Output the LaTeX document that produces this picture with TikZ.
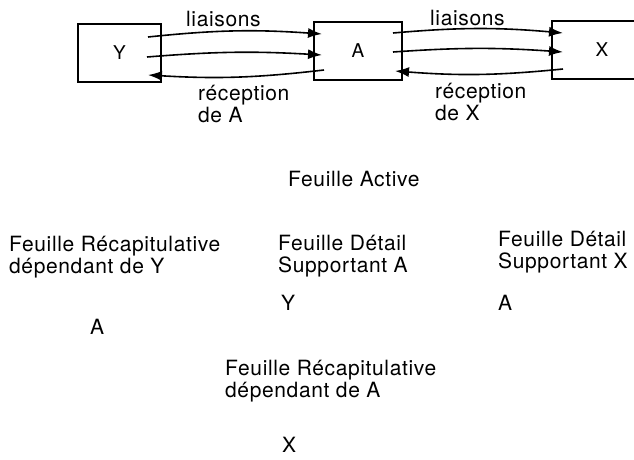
\documentclass[tikz,border=0pt]{standalone}
\usepackage{fontspec}
\setmainfont{TeX Gyre Heros}[LetterSpace=3]
\usetikzlibrary{arrows.meta,positioning}
\tikzset{
  sheet/.style={draw,line width=1.6pt,minimum height=58pt,inner sep=0pt,font=\fontsize{19}{20}\selectfont},
  link/.style={line width=1.6pt,-{Latex[length=14pt,width=10pt]}},
  lbl/.style={anchor=base west,inner sep=0pt,align=left,font=\fontsize{21}{22}\selectfont},
}
\begin{document}
\begin{tikzpicture}[x=1pt,y=-1pt]
  \useasboundingbox (0,0) rectangle (634,459);
  % feuilles liees
  \node[sheet,minimum width=83pt] (Y) at (119.5,53) {Y};
  \node[sheet,minimum width=88pt] (A) at (358,51) {A};
  \node[sheet,minimum width=100pt] (X) at (602,50) {X};
  % points d'attache des liaisons
  \coordinate (y1) at (148,37); \coordinate (y2) at (147,57); \coordinate (y3) at (148,75);
  \coordinate (a1) at (322,34); \coordinate (a2) at (322,55); \coordinate (a3) at (324,70);
  \coordinate (b1) at (393,33); \coordinate (b2) at (393,52); \coordinate (b3) at (395,71);
  \coordinate (x1) at (563,33); \coordinate (x2) at (563,52); \coordinate (x3) at (563,69);
  \draw[link] (y1) to[bend left=5] (a1);
  \draw[link] (y2) to[bend left=4] (a2);
  \draw[link] (a3) to[bend left=5] (y3);
  \draw[link] (b1) to[bend left=5] (x1);
  \draw[link] (b2) to[bend left=4] (x2);
  \draw[link] (x3) to[bend left=5] (b3);
  \node[lbl] (liaY) at (186,26) {liaisons};
  \node[lbl] (recA) at (198,122) {réception\\de A};
  \node[lbl] (liaX) at (430,25) {liaisons};
  \node[lbl] (recX) at (435,120) {réception\\de X};
  % structure des feuilles
  \node[lbl] (active) at (288,186) {Feuille Active};
  \node[lbl] (recapY) at (9,273) {Feuille Récapitulative\\dépendant de Y};
  \node[lbl] (detA) at (278,272) {Feuille Détail\\Supportant A};
  \node[lbl] (detX) at (498,268) {Feuille Détail\\Supportant X};
  \node[lbl] (subA) at (281,310) {Y};
  \node[lbl] (subY) at (90,334) {A};
  \node[lbl] (subX) at (498,310) {A};
  \node[lbl] (recapA) at (225,397) {Feuille Récapitulative\\dépendant de A};
  \node[lbl] (subRA) at (282,452) {X};
\end{tikzpicture}
\end{document}
